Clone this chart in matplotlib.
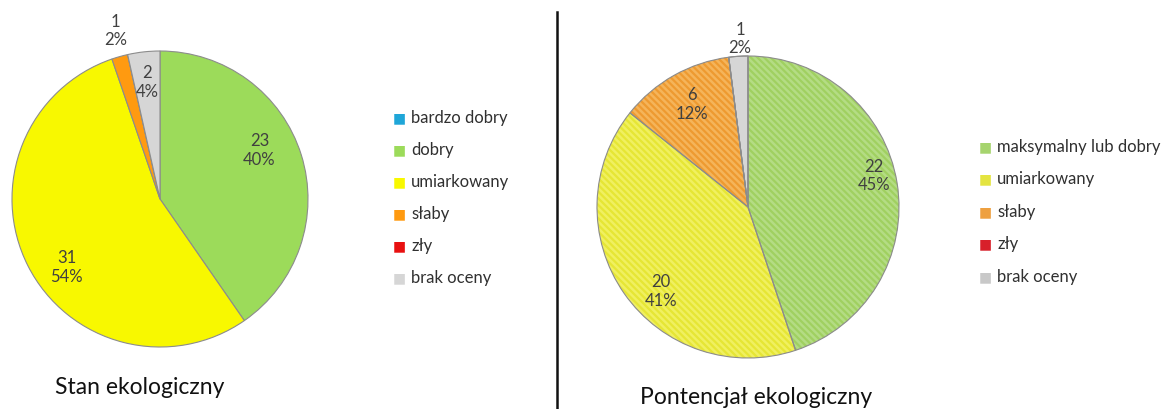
import numpy as np
import matplotlib.pyplot as plt
from matplotlib.lines import Line2D

plt.rcParams['font.family'] = ['Lato', 'DejaVu Sans']
plt.rcParams['hatch.linewidth'] = 1.6

# left chart: Stan ekologiczny
stan_labels = ['bardzo dobry', 'dobry', 'umiarkowany', 'słaby', 'zły', 'brak oceny']
stan_values = [0, 23, 31, 1, 0, 2]
stan_colors = ['#1FA6D8', '#9CDB5A', '#F8F800', '#FF9A10', '#E81010', '#D6D6D6']

# right chart: Pontencjał ekologiczny
pot_labels = ['maksymalny lub dobry', 'umiarkowany', 'słaby', 'zły', 'brak oceny']
pot_values = [22, 20, 6, 0, 1]
pot_colors = ['#B4DC84', '#F0F060', '#F5B45A', '#E03030', '#D6D6D6']
pot_stripes = ['#A0D060', '#E6E634', '#EE9A30', '#F06060', '#D6D6D6']

# label distance (fraction of radius) and angle tweak per slice
stan_lpos = [(0.75, 0), (0.75, 9), (0.78, 9), (1.18, -1), (0.8, 0), (0.8, 0)]
pot_lpos = [(0.86, 5), (0.8, 9), (0.78, -1), (0.8, 0), (1.12, -1)]

W, H = 1166, 410
fig = plt.figure(figsize=(W / 100, H / 100), dpi=100)


def pie_axes(cx, cy, r):
    return fig.add_axes([(cx - r) / W, 1 - (cy + r) / H, 2 * r / W, 2 * r / H])


def draw_pie(ax, values, colors, lpos, stripes=None):
    wedges, _ = ax.pie(values, colors=colors, startangle=90, counterclock=False,
                       wedgeprops=dict(edgecolor='#8C8C8C', linewidth=0.8))
    if stripes is not None:
        for w, sc in zip(wedges, stripes):
            if sc != '#D6D6D6':
                w.set_hatch('\\\\\\\\\\')
                w.set_edgecolor(sc)
                w.set_linewidth(0)
        ax.pie(values, startangle=90, counterclock=False,
               wedgeprops=dict(fill=False, edgecolor='#8C8C8C', linewidth=0.8))
    total = sum(values)
    for w, v, (d, da) in zip(wedges, values, lpos):
        if v == 0:
            continue
        ang = np.deg2rad((w.theta1 + w.theta2) / 2 + da)
        ax.text(d * np.cos(ang), d * np.sin(ang), f'{v}\n{v / total:.0%}',
                ha='center', va='center', fontsize=12, color='#404040',
                linespacing=1.2)
    ax.set_xlim(-1, 1)
    ax.set_ylim(-1, 1)
    ax.set_aspect('equal')
    ax.axis('off')


ax1 = pie_axes(160, 200, 148)
draw_pie(ax1, stan_values, stan_colors, stan_lpos)

ax2 = pie_axes(748, 208, 151)
draw_pie(ax2, pot_values, pot_colors, pot_lpos, pot_stripes)


# legends
def legend(x, y0, labels, colors, step):
    for i, (lab, c) in enumerate(zip(labels, colors)):
        y = y0 + i * step
        fig.text(x / W, 1 - y / H, '\u25A0', color=c, fontsize=10,
                 ha='center', va='center', family='DejaVu Sans')
        fig.text((x + 12) / W, 1 - y / H, lab, fontsize=12, color='#303030',
                 ha='left', va='center')


legend(399, 118, stan_labels, stan_colors, 32)
legend(985, 147, pot_labels, ['#A6D46E', '#E4E440', '#EEA040', '#D8202A', '#C8C8C8'], 32.5)

fig.text(140 / W, 1 - 388 / H, 'Stan ekologiczny', fontsize=16.5, color='#111111',
         ha='center', va='center')
fig.text(756 / W, 1 - 398 / H, 'Pontencjał ekologiczny', fontsize=16.5,
         color='#111111', ha='center', va='center')

fig.add_artist(Line2D([557 / W, 557 / W], [0, 1 - 13 / H], color='#111111',
                      linewidth=1.8))

fig.savefig('out.png', dpi=100)
